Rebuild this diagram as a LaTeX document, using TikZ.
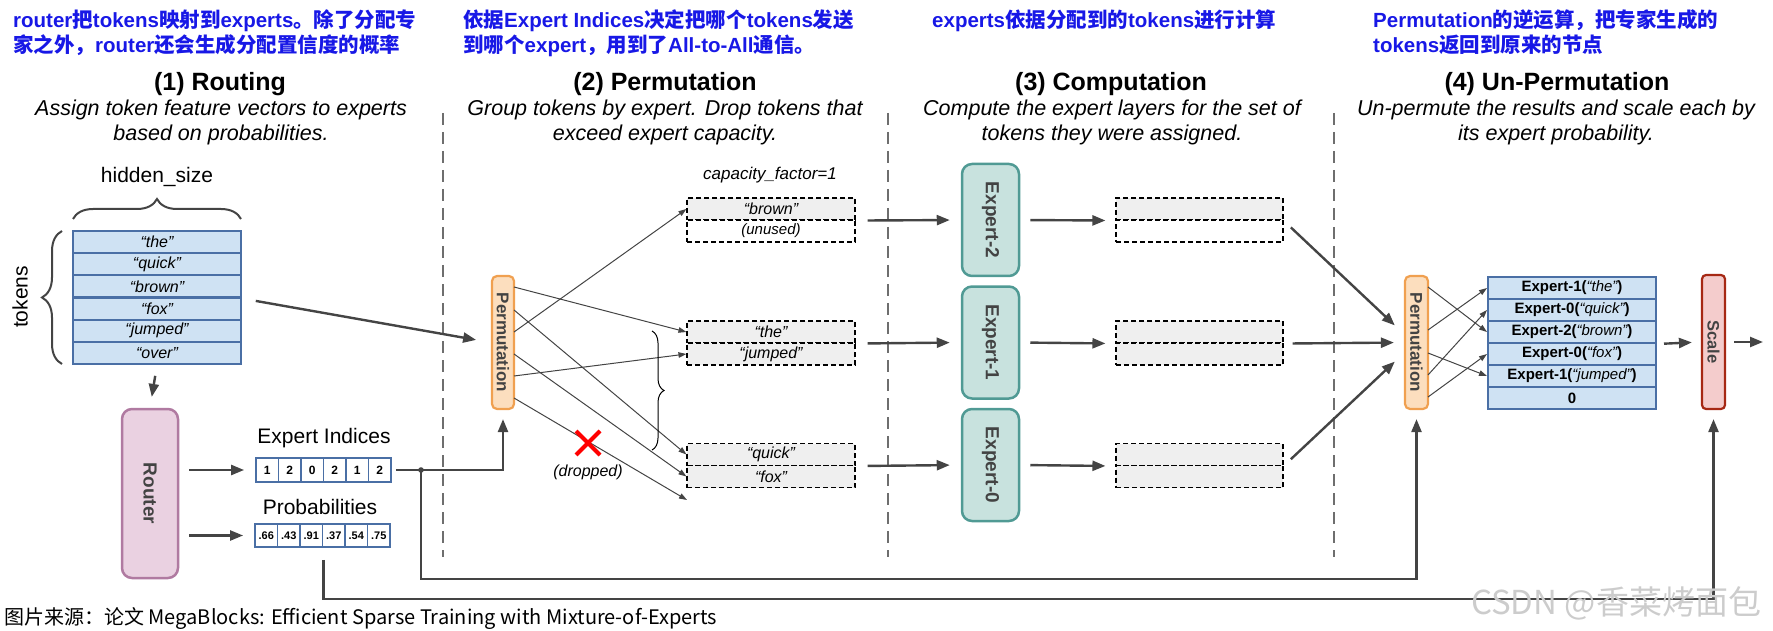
\documentclass[tikz,border=0pt]{standalone}
\usepackage{fontspec}
\usepackage{graphicx}
\setmainfont{Liberation Sans}
\newfontfamily\cjk{Noto Sans CJK SC}
\usetikzlibrary{arrows.meta,decorations.pathreplacing,calc}
\definecolor{hdrblue}{RGB}{24,24,230}
\definecolor{tblfill}{RGB}{207,226,243}
\definecolor{tbldraw}{RGB}{74,111,165}
\definecolor{rtfill}{RGB}{234,209,225}
\definecolor{rtdraw}{RGB}{176,122,161}
\definecolor{pmfill}{RGB}{252,222,190}
\definecolor{pmdraw}{RGB}{240,160,80}
\definecolor{exfill}{RGB}{200,226,222}
\definecolor{exdraw}{RGB}{80,154,148}
\definecolor{scfill}{RGB}{244,204,204}
\definecolor{scdraw}{RGB}{166,40,20}
\definecolor{bufgray}{RGB}{239,239,239}
\definecolor{arrgray}{RGB}{68,68,68}
\definecolor{txtgray}{RGB}{67,67,67}
\definecolor{sepgray}{RGB}{110,110,110}
\newcommand\C[1]{{\cjk #1}}
\newcommand\fs[1]{\fontsize{#1}{#1}\selectfont}
\tikzset{
  hdr/.style={anchor=base west, inner sep=0, text=hdrblue, font=\fs{20.5}\bfseries},
  ttl/.style={anchor=base, inner sep=0, font=\fs{25}\bfseries},
  sub/.style={anchor=base, inner sep=0, font=\fs{21.5}\itshape},
  lbl/.style={inner sep=0, font=\fs{21}},
  sepline/.style={draw=sepgray, line width=2, dash pattern=on 12pt off 7pt},
  tok/.style={draw=tbldraw, fill=tblfill, line width=2, minimum width=168, minimum height=22.17, inner sep=0, font=\fs{16}\itshape},
  otok/.style={draw=tbldraw, fill=tblfill, line width=2, minimum width=168, minimum height=22, inner sep=0, font=\fs{15}\bfseries},
  cell/.style={draw=tbldraw, fill=white, line width=1.8, minimum width=22.5, minimum height=24, inner sep=0, font=\fs{12}\bfseries},
  vbox/.style={line width=2.2, inner sep=0, font=\fs{17}\bfseries, text=txtgray},
  expert/.style={vbox, fill=exfill, draw=exdraw, line width=2.5, minimum width=57, minimum height=112, rounded corners=10, font=\fs{19}\bfseries},
  buf/.style={draw=black, dash pattern=on 5pt off 3pt, fill=bufgray, line width=1.1, minimum width=168, minimum height=22, inner sep=0, font=\fs{16}\itshape},
  arr/.style={draw=arrgray, line width=2.4, -{Triangle[length=13,width=10]}},
  thinarr/.style={draw=arrgray, line width=1, -{Triangle[length=8,width=5.5]}},
  bigbrace/.style={draw=arrgray, line width=2, decorate, decoration={brace, amplitude=20}},
  smallbrace/.style={draw=black, line width=1, decorate, decoration={brace, amplitude=12}},
}
\begin{document}
\begin{tikzpicture}[x=1pt,y=-1pt]
\useasboundingbox (0,0) rectangle (1773,631);

% ---- blue headers
\node[hdr] (h1a) at (13,28) {router\C{把}tokens\C{映射到}experts\C{。除了分配专}};
\node[hdr] (h1b) at (13,53) {\C{家之外，}router\C{还会生成分配置信度的概率}};
\node[hdr] (h2a) at (463,28) {\C{依据}Expert Indices\C{决定把哪个}tokens\C{发送}};
\node[hdr] (h2b) at (463,53) {\C{到哪个}expert\C{，用到了}All-to-All\C{通信。}};
\node[hdr] (h3a) at (932,28) {experts\C{依据分配到的}tokens\C{进行计算}};
\node[hdr] (h4a) at (1373,28) {Permutation\C{的逆运算，把专家生成的}};
\node[hdr] (h4b) at (1373,53) {tokens\C{返回到原来的节点}};

% ---- section titles
\node[ttl] (t1) at (220,91) {(1) Routing};
\node[ttl] (t2) at (665,91) {(2) Permutation};
\node[ttl] (t3) at (1111,91) {(3) Computation};
\node[ttl] (t4) at (1557,91) {(4) Un-Permutation};
\node[sub] (s1a) at (221,116) {Assign token feature vectors to experts};
\node[sub] (s1b) at (221,141) {based on probabilities.};
\node[sub] (s2a) at (665,116) {Group tokens by expert. Drop tokens that};
\node[sub] (s2b) at (665,141) {exceed expert capacity.};
\node[sub] (s3a) at (1112,116) {Compute the expert layers for the set of};
\node[sub] (s3b) at (1112,141) {tokens they were assigned.};
\node[sub] (s4a) at (1556,116) {Un-permute the results and scale each by};
\node[sub] (s4b) at (1556,141) {its expert probability.};

% ---- separators
\draw[sepline] (443,113) -- (443,557);
\draw[sepline] (888,113) -- (888,557);
\draw[sepline] (1334,113) -- (1334,557);

% ---- (1) routing
\node[lbl] (hs) at (157,177) {hidden\_size};
\draw[bigbrace] (73,219) -- (241,219);
\node[lbl, rotate=90] (tokl) at (20,297) {tokens};
\draw[bigbrace] (62,364) -- (62,231);
\node[tok] (t1r) at (157,242.1) {“the”};
\node[tok] (t2r) at (157,264.3) {“quick”};
\node[tok] (t3r) at (157,286.4) {“brown”};
\node[tok] (t4r) at (157,308.6) {“fox”};
\node[tok] (t5r) at (157,330.8) {“jumped”};
\node[tok] (t6r) at (157,352.9) {“over”};

\node[vbox, fill=rtfill, draw=rtdraw, line width=2.5, minimum width=56, minimum height=169, rounded corners=10, font=\fs{19}\bfseries] (router) at (150,493.5) {\rotatebox{-90}{Router}};
\draw[arr, shorten <=11, shorten >=11] (t6r.south) -- (router.north);

\node[lbl] (eil) at (324,438) {Expert Indices};
\node[cell] (i1) at (267.25,470) {1};
\node[cell] (i2) at (289.75,470) {2};
\node[cell] (i3) at (312.25,470) {0};
\node[cell] (i4) at (334.75,470) {2};
\node[cell] (i5) at (357.25,470) {1};
\node[cell] (i6) at (379.75,470) {2};
\node[lbl] (prl) at (320,507) {Probabilities};
\node[cell, minimum height=23, font=\fs{11}\bfseries] (q1) at (266.25,535.5) {.66};
\node[cell, minimum height=23, font=\fs{11}\bfseries] (q2) at (288.75,535.5) {.43};
\node[cell, minimum height=23, font=\fs{11}\bfseries] (q3) at (311.25,535.5) {.91};
\node[cell, minimum height=23, font=\fs{11}\bfseries] (q4) at (333.75,535.5) {.37};
\node[cell, minimum height=23, font=\fs{11}\bfseries] (q5) at (356.25,535.5) {.54};
\node[cell, minimum height=23, font=\fs{11}\bfseries] (q6) at (378.75,535.5) {.75};
\draw[arr, shorten <=10, shorten >=11] (router.east |- i1.west) -- (i1.west);
\draw[arr, shorten <=10, shorten >=11] (router.east |- q1.west) -- (q1.west);

% ---- (2) permutation
\node[vbox, fill=pmfill, draw=pmdraw, minimum width=22, minimum height=133, rounded corners=5] (perm) at (503,342.5) {\rotatebox{-90}{Permutation}};
\draw[arr, shorten <=14, shorten >=15] (t3r.south east) -- (perm.west);
\coordinate (split) at (421,470);
\draw[arr, shorten <=4, shorten >=9] (i6.east) -| (perm.south);
\fill[arrgray] (split) circle (2.8);

\node[font=\fs{17}\itshape, inner sep=0] (cap) at (770,175) {capacity\_factor=1};
\node[buf] (b2a) at (771,209) {“brown”};
\node[buf, fill=white, font=\fs{15}\itshape] (b2b) at (771,231) {(unused)};
\node[buf] (b1a) at (771,332) {“the”};
\node[buf] (b1b) at (771,354) {“jumped”};
\node[buf] (b0a) at (771,454.5) {“quick”};
\node[buf] (b0b) at (771,476.5) {“fox”};

\coordinate (pa) at (514,287);
\coordinate (pb) at (514,310);
\coordinate (pc) at (514,332);
\coordinate (pd) at (514,354);
\coordinate (pe) at (514,376);
\coordinate (pf) at (514,398);
\coordinate (drop) at (687,500);
\draw[thinarr] (pa) -- (b1a.west);
\draw[thinarr] (pb) -- (b0a.west);
\draw[thinarr] (pc) -- (b2a.west);
\draw[thinarr] (pd) -- (b0b.west);
\draw[thinarr] (pe) -- (b1b.west);
\draw[thinarr] (pf) -- (drop);
\draw[smallbrace] (652,331) -- (652,450);
\draw[red, line width=4] (576,431) -- (600,455) (600,431) -- (576,455);
\node[font=\fs{16}\itshape, inner sep=0] (dropl) at (588,472) {(dropped)};

% ---- (3) computation
\node[expert] (e2) at (990.5,220) {\rotatebox{-90}{Expert-2}};
\node[expert] (e1) at (990.5,342.5) {\rotatebox{-90}{Expert-1}};
\node[expert] (e0) at (990.5,465) {\rotatebox{-90}{Expert-0}};
\draw[arr, shorten <=12, shorten >=11] (b2a.south east) -- (e2.west);
\draw[arr, shorten <=12, shorten >=11] (b1a.south east) -- (e1.west);
\draw[arr, shorten <=12, shorten >=11] (b0a.south east) -- (e0.west);

\node[buf, minimum width=167] (o2a) at (1199.5,209) {};
\node[buf, minimum width=167, fill=white] (o2b) at (1199.5,231) {};
\node[buf, minimum width=167] (o1a) at (1199.5,332) {};
\node[buf, minimum width=167] (o1b) at (1199.5,354) {};
\node[buf, minimum width=167] (o0a) at (1199.5,454.5) {};
\node[buf, minimum width=167] (o0b) at (1199.5,476.5) {};
\draw[arr, shorten <=10, shorten >=10] (e2.east) -- (o2a.south west);
\draw[arr, shorten <=10, shorten >=10] (e1.east) -- (o1a.south west);
\draw[arr, shorten <=10, shorten >=10] (e0.east) -- (o0a.south west);

% ---- (4) un-permutation
\node[vbox, fill=pmfill, draw=pmdraw, minimum width=23, minimum height=133, rounded corners=5] (uperm) at (1416.5,342.5) {\rotatebox{-90}{Permutation}};
\coordinate (ui1) at (1405,335);
\coordinate (ui3) at (1405,352);
\draw[arr, shorten <=10, shorten >=14] (o2a.south east) -- (ui1);
\draw[arr, shorten <=9, shorten >=10] (o1a.south east) -- (uperm.west);
\draw[arr, shorten <=10, shorten >=14] (o0a.south east) -- (ui3);

\node[otok] (r1) at (1572,288) {Expert-1({\mdseries\itshape “the”})};
\node[otok] (r2) at (1572,310) {Expert-0({\mdseries\itshape “quick”})};
\node[otok] (r3) at (1572,332) {Expert-2({\mdseries\itshape “brown”})};
\node[otok] (r4) at (1572,354) {Expert-0({\mdseries\itshape “fox”})};
\node[otok] (r5) at (1572,376) {Expert-1({\mdseries\itshape “jumped”})};
\node[otok] (r6) at (1572,398) {0};

\coordinate (ua) at (1428,287);
\coordinate (ub) at (1428,330);
\coordinate (uc) at (1428,353);
\coordinate (ud) at (1428,375);
\coordinate (ue) at (1428,397);
\draw[thinarr] (ua) -- (r3.west);
\draw[thinarr] (ub) -- (r1.west);
\draw[thinarr] (uc) -- (r5.west);
\draw[thinarr] (ud) -- (r2.west);
\draw[thinarr] (ue) -- (r4.west);

\node[vbox, fill=scfill, draw=scdraw, minimum width=23, minimum height=134, rounded corners=4, font=\fs{16.5}\bfseries] (scale) at (1713.5,342) {\rotatebox{-90}{Scale}};
\draw[arr, shorten <=7, shorten >=9] (r3.south east) -- (scale.west);
\coordinate (out) at (1763,342);
\draw[arr, shorten <=8] (scale.east) -- (out);

% ---- long return lines
\draw[arr, shorten >=9] (split) -- ++(0,109) -| (uperm.south);
\draw[arr, shorten <=12, shorten >=9] (q3.south east) -- ++(0,51) -| (scale.south);

% ---- caption and watermark
\node[anchor=base west, inner sep=0, font=\cjk\fs{20}] (cap2) at (4,624) {图片来源：论文 MegaBlocks: Efficient Sparse Training with Mixture-of-Experts};
\node[inner sep=0, font=\cjk\fs{33}, text=gray!40] (wm) at (1616,603) {CSDN @香菜烤面包};
\end{tikzpicture}
\end{document}
